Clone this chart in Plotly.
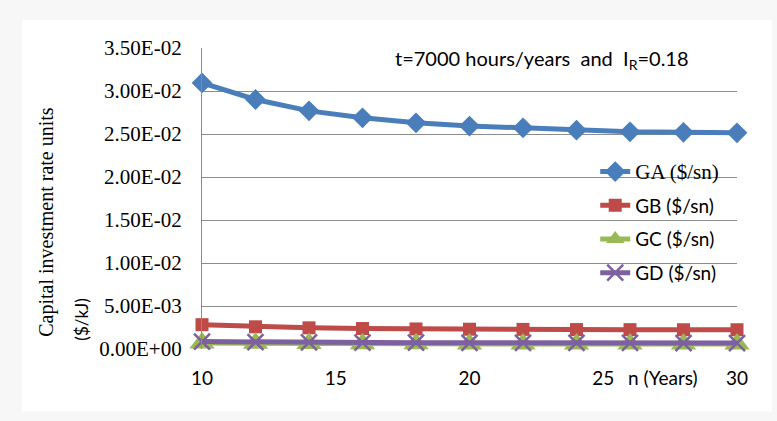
import plotly.graph_objects as go

# Service life n (years)
n_years = [10, 12, 14, 16, 18, 20, 22, 24, 26, 28, 30]

# Capital investment rate of each component ($/kJ)
ga = [0.03094, 0.02901, 0.02769, 0.02688, 0.02630, 0.02592, 0.02572, 0.02545, 0.02525, 0.02519, 0.02514]
gb = [0.00283, 0.00258, 0.00246, 0.00238, 0.00233, 0.00230, 0.00228, 0.00226, 0.00225, 0.00224, 0.00224]
gc = [0.00070, 0.00066, 0.00063, 0.00061, 0.00060, 0.00059, 0.00058, 0.00058, 0.00057, 0.00057, 0.00057]
gd = [0.00086, 0.00080, 0.00077, 0.00075, 0.00073, 0.00072, 0.00071, 0.00070, 0.00070, 0.00069, 0.00069]

y_tickvals = [0, 0.005, 0.01, 0.015, 0.02, 0.025, 0.03, 0.035]
y_ticktext = ["0.00E+00", "5.00E-03", "1.00E-02", "1.50E-02", "2.00E-02", "2.50E-02", "3.00E-02", "3.50E-02"]
x_tickvals = [10, 15, 20, 25, 30]

SERIF = "Liberation Serif, Times New Roman, serif"
SANS = "Lato, Open Sans, sans-serif"

series = [
    ("GA ($/sn)", ga, "#4A7EBB", dict(symbol="diamond", size=16), SERIF, 21),
    ("GB ($/sn)", gb, "#BE4B48", dict(symbol="square", size=13), SANS, 19),
    ("GC ($/sn)", gc, "#98B954", dict(symbol="triangle-up", size=22), SANS, 19),
    ("GD ($/sn)", gd, "#7D60A0", dict(symbol="x-thin-open", size=16, line=dict(width=2.5, color="#7D60A0")), SANS, 19),
]

fig = go.Figure()
for i, (name, vals, color, marker, fam, fsize) in enumerate(series):
    fig.add_trace(go.Scatter(
        x=n_years, y=vals, mode="lines+markers",
        name=f'<span style="font-family:{fam};font-size:{fsize}px">{name}</span>',
        legendgroup=f"g{i}",
        line=dict(color=color, width=5),
        marker=dict(color=color, **marker),
        cliponaxis=False,
    ))

fig.update_layout(
    width=777, height=421,
    margin=dict(l=202, r=40, t=48, b=72),
    paper_bgcolor="#f7f7f7",
    plot_bgcolor="rgba(0,0,0,0)",
    showlegend=True,
    legend=dict(
        x=0.735, y=0.652, xanchor="left", yanchor="top",
        bgcolor="rgba(0,0,0,0)", tracegroupgap=6,
        font=dict(family=SANS, size=19, color="#000000"),
    ),
    shapes=[dict(type="rect", xref="paper", yref="paper", layer="below",
                 x0=(22 - 202) / 535, x1=(772 - 202) / 535,
                 y0=-(412 - 349.4) / 301.4, y1=(349.4 - 20) / 301.4,
                 fillcolor="#ffffff", line=dict(width=0))],
    annotations=[
        dict(text="t=7000 hours/years  and  I<sub>R</sub>=0.18", xref="paper", yref="paper",
             x=(393 - 202) / 535, y=(349.4 - 60) / 301.4, xanchor="left", yanchor="middle",
             showarrow=False, font=dict(family=SANS, size=20, color="#000000")),
        dict(text="n (Years)", xref="paper", yref="paper",
             x=(663 - 202) / 535, y=-(378 - 349.4) / 301.4, xanchor="center", yanchor="middle",
             showarrow=False, font=dict(family=SANS, size=19, color="#000000")),
        dict(text="Capital investment rate units", xref="paper", yref="paper",
             x=(47 - 202) / 535, y=(349.4 - 222) / 301.4, xanchor="center", yanchor="middle",
             textangle=-90, showarrow=False, font=dict(family=SERIF, size=20, color="#000000")),
        dict(text="($/kJ)", xref="paper", yref="paper",
             x=(82 - 202) / 535, y=(349.4 - 320) / 301.4, xanchor="center", yanchor="middle",
             textangle=-90, showarrow=False, font=dict(family=SANS, size=17, color="#000000")),
    ],
)

fig.update_xaxes(
    range=[10, 30], tickvals=x_tickvals, showgrid=False, zeroline=False,
    showline=False, ticks="outside", ticklen=0, ticklabelstandoff=12,
    tickfont=dict(family=SANS, size=19, color="#000000"),
)
fig.update_yaxes(
    range=[0, 0.035], tickvals=y_tickvals, ticktext=y_ticktext,
    showgrid=True, gridcolor="#8C8C8C", gridwidth=1.3, zeroline=False,
    showline=True, linecolor="#8C8C8C", linewidth=1.3,
    ticks="outside", ticklen=0, ticklabelstandoff=15,
    tickfont=dict(family=SERIF, size=21, color="#000000"),
)

fig.write_html("out.html")
